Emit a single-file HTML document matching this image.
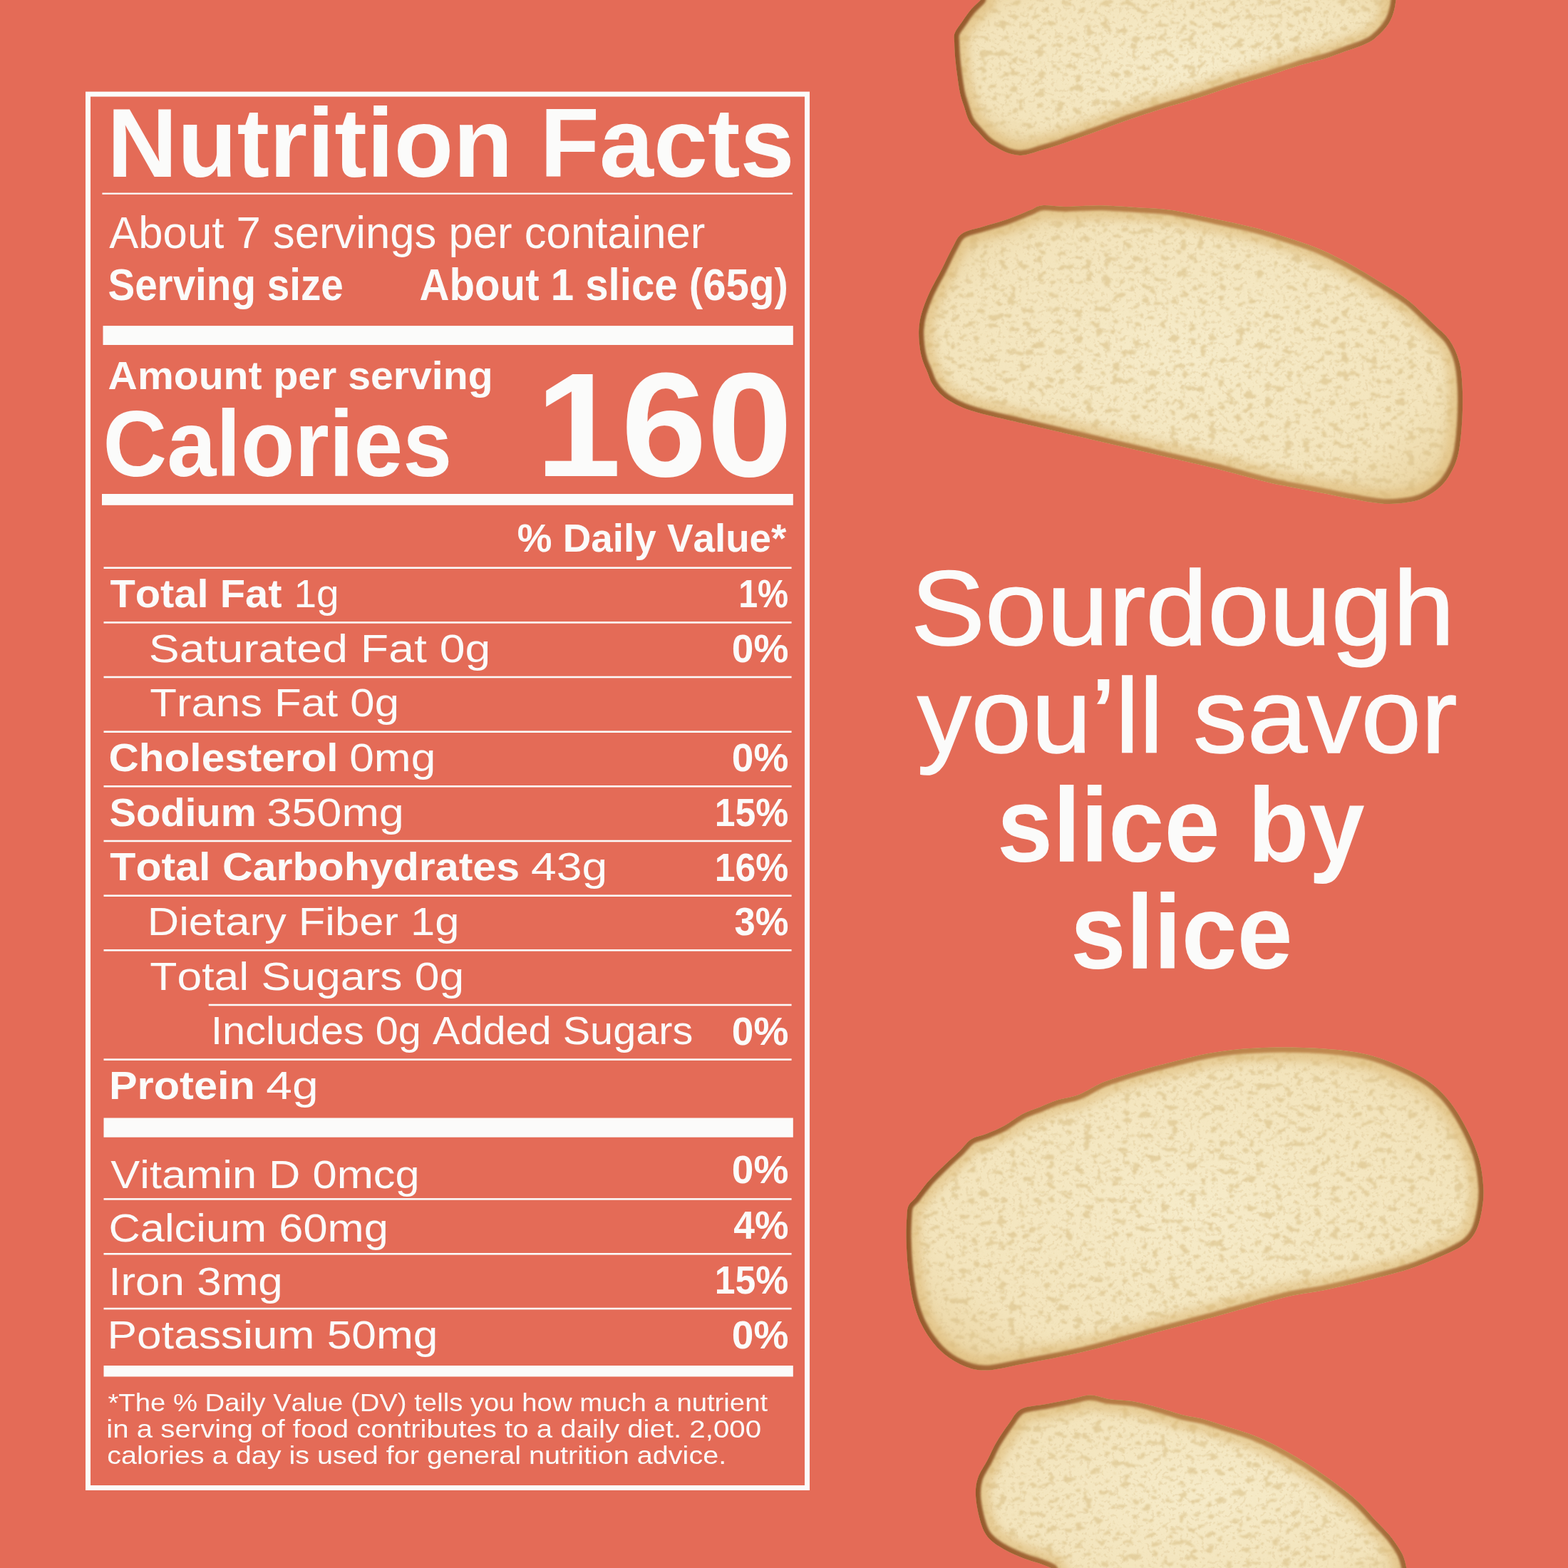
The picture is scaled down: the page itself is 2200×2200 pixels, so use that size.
<!DOCTYPE html><html><head><meta charset="utf-8"><title>Nutrition Facts</title><style>html,body{margin:0;padding:0;background:#e46b57;width:2200px;height:2200px;overflow:hidden}svg{display:block}text{font-family:"Liberation Sans",Arial,sans-serif;fill:#fbfbfa;font-kerning:none}.b{font-weight:700}</style></head><body>
<svg width="2200" height="2200" viewBox="0 0 2200 2200">
<defs>
<filter id="crumb" x="1200" y="-50" width="1000" height="2300" filterUnits="userSpaceOnUse" color-interpolation-filters="sRGB">
<feTurbulence type="fractalNoise" baseFrequency="0.075 0.1" numOctaves="3" seed="11" result="n"/>
<feColorMatrix in="n" type="matrix" values="0 0 0 0 0.86  0 0 0 0 0.76  0 0 0 0 0.54  12 0 0 0 -7.2" result="holes"/>
<feGaussianBlur in="holes" stdDeviation="0.8" result="hb"/>
<feComposite in="hb" in2="SourceGraphic" operator="in"/>
</filter>
<filter id="fine" x="1200" y="-50" width="1000" height="2300" filterUnits="userSpaceOnUse" color-interpolation-filters="sRGB">
<feTurbulence type="fractalNoise" baseFrequency="0.2" numOctaves="2" seed="5" result="n"/>
<feColorMatrix in="n" type="matrix" values="0 0 0 0 0.88  0 0 0 0 0.79  0 0 0 0 0.6  8 0 0 0 -4.5" result="holes"/>
<feComposite in="holes" in2="SourceGraphic" operator="in"/>
</filter>
<filter id="soft" x="-10%" y="-10%" width="120%" height="120%"><feGaussianBlur stdDeviation="6"/></filter>
<filter id="soft2" x="-10%" y="-10%" width="120%" height="120%"><feGaussianBlur stdDeviation="1.5"/></filter>
<radialGradient id="cg" cx="50%" cy="50%" r="65%"><stop offset="0" stop-color="#f6ebc9"/><stop offset="0.7" stop-color="#f3e4bc"/><stop offset="1" stop-color="#e9d19c"/></radialGradient>
<clipPath id="c0"><path d="M1405.0,-30.0 C1307.7,-25.0 1383.1,-7.3 1375.9,0.0 C1368.7,7.3 1366.2,8.9 1361.9,14.0 C1357.6,19.1 1353.5,25.4 1349.8,30.8 C1346.1,36.2 1341.4,41.6 1339.6,46.6 C1337.8,51.6 1338.9,54.4 1339.1,60.6 C1339.2,66.8 1339.8,76.1 1340.5,83.9 C1341.2,91.7 1342.2,99.4 1343.3,107.2 C1344.4,115.0 1345.5,123.5 1347.0,130.5 C1348.5,137.5 1350.4,142.5 1352.6,149.1 C1354.8,155.7 1356.7,163.9 1360.0,169.9 C1363.3,175.9 1368.3,180.1 1372.4,184.8 C1376.5,189.5 1380.7,194.4 1384.8,198.0 C1388.9,201.6 1392.5,203.5 1397.3,206.3 C1402.1,209.1 1408.3,212.7 1413.8,214.6 C1419.3,216.5 1425.6,217.6 1430.4,217.9 C1435.2,218.2 1438.0,217.4 1442.8,216.3 C1447.6,215.2 1452.5,213.4 1459.4,211.3 C1466.3,209.2 1472.5,207.7 1484.2,203.8 C1495.9,199.9 1513.8,193.4 1529.7,187.7 C1545.6,182.0 1562.8,175.2 1579.4,169.4 C1596.0,163.6 1612.5,158.1 1629.1,152.9 C1645.7,147.7 1662.2,143.2 1678.8,138.0 C1695.3,132.8 1711.9,126.7 1728.4,121.4 C1745.0,116.2 1761.9,111.5 1778.1,106.5 C1794.3,101.5 1812.0,95.2 1825.6,91.1 C1839.2,87.0 1849.3,85.2 1859.7,82.0 C1870.1,78.8 1879.7,74.8 1888.2,71.8 C1896.8,68.8 1904.4,66.6 1911.0,63.8 C1917.6,60.9 1922.3,59.1 1928.0,54.7 C1933.7,50.3 1940.7,43.3 1945.1,37.6 C1949.5,31.9 1952.0,26.8 1954.2,20.5 C1956.4,14.2 1957.5,8.4 1958.5,0.0 C1959.5,-8.4 2052.2,-25.0 1960.0,-30.0 C1867.8,-35.0 1502.3,-35.0 1405.0,-30.0Z"/></clipPath>
<clipPath id="c1"><path d="M1336.3,347.8 C1341.0,339.5 1342.4,333.0 1349.6,328.0 C1356.8,323.0 1368.9,321.3 1379.4,318.0 C1389.9,314.7 1401.5,312.0 1412.5,308.1 C1423.5,304.2 1437.3,298.1 1445.6,294.8 C1453.9,291.5 1453.9,289.0 1462.2,288.2 C1470.5,287.4 1481.5,289.9 1495.3,289.9 C1509.1,289.9 1527.5,287.9 1545.0,288.2 C1562.5,288.5 1583.7,290.4 1600.0,291.5 C1616.3,292.6 1625.2,292.2 1642.7,294.8 C1660.2,297.4 1685.2,303.2 1704.8,307.3 C1724.3,311.4 1743.2,315.3 1760.0,319.6 C1776.8,323.9 1790.4,328.4 1805.6,333.3 C1820.8,338.2 1835.9,342.8 1851.1,349.2 C1866.3,355.6 1881.5,363.6 1896.7,372.0 C1911.9,380.4 1928.9,390.9 1942.2,399.3 C1955.5,407.7 1965.0,413.0 1976.4,422.1 C1987.8,431.2 2001.1,444.9 2010.6,454.0 C2020.1,463.1 2027.2,468.1 2033.3,476.8 C2039.4,485.5 2044.0,495.8 2047.0,506.4 C2050.1,517.0 2050.8,527.3 2051.6,540.6 C2052.4,553.9 2052.4,570.9 2051.6,586.1 C2050.8,601.3 2049.3,619.6 2047.0,631.7 C2044.7,643.9 2042.1,650.6 2037.9,659.0 C2033.7,667.4 2028.5,675.3 2022.0,681.8 C2015.5,688.2 2006.8,693.9 1999.2,697.7 C1991.6,701.5 1985.9,703.1 1976.4,704.6 C1966.9,706.1 1955.5,707.7 1942.2,706.9 C1928.9,706.1 1911.9,702.7 1896.7,700.0 C1881.5,697.3 1867.2,694.0 1851.1,690.9 C1835.0,687.8 1813.3,684.0 1800.0,681.3 C1786.7,678.6 1787.0,678.8 1771.3,674.8 C1755.6,670.8 1727.8,662.8 1706.1,657.4 C1684.4,652.0 1662.6,647.3 1640.9,642.2 C1619.2,637.1 1597.5,632.1 1575.7,627.0 C1554.0,621.9 1532.2,616.8 1510.4,611.7 C1488.7,606.6 1460.3,600.0 1445.2,596.5 C1430.1,593.0 1428.7,592.6 1419.8,590.5 C1410.9,588.4 1401.1,586.3 1391.8,584.0 C1382.5,581.7 1372.4,579.4 1363.9,576.6 C1355.4,573.8 1347.6,570.8 1340.6,567.2 C1333.6,563.6 1327.3,559.9 1321.9,555.1 C1316.5,550.3 1311.4,543.8 1308.0,538.4 C1304.6,533.0 1303.7,528.2 1301.4,522.5 C1299.1,516.8 1295.8,510.1 1294.0,503.9 C1292.2,497.7 1291.1,492.2 1290.3,485.2 C1289.5,478.2 1288.8,469.4 1289.3,461.9 C1289.8,454.4 1290.6,448.3 1293.0,440.0 C1295.4,431.7 1298.8,422.4 1303.5,412.0 C1308.2,401.6 1315.9,388.4 1321.4,377.7 C1326.9,367.0 1331.6,356.1 1336.3,347.8Z"/></clipPath>
<clipPath id="c2"><path d="M1272.4,1706.3 C1273.0,1698.2 1272.8,1695.8 1274.9,1691.4 C1277.0,1687.1 1280.0,1686.0 1284.8,1680.2 C1289.6,1674.4 1296.2,1664.7 1303.5,1656.6 C1310.8,1648.5 1321.0,1638.8 1328.3,1631.8 C1335.5,1624.8 1341.2,1620.0 1347.0,1614.4 C1352.8,1608.8 1356.9,1602.2 1363.1,1598.3 C1369.3,1594.4 1376.5,1593.9 1384.2,1590.8 C1391.9,1587.7 1400.8,1584.1 1409.1,1579.6 C1417.4,1575.0 1425.6,1567.8 1433.9,1563.5 C1442.2,1559.2 1450.5,1556.8 1458.8,1553.5 C1467.1,1550.2 1474.5,1546.5 1483.6,1543.6 C1492.6,1540.7 1502.1,1540.4 1513.1,1536.1 C1524.1,1531.8 1535.8,1523.3 1549.6,1517.8 C1563.4,1512.3 1579.9,1507.6 1595.9,1502.9 C1611.9,1498.2 1629.0,1493.8 1645.6,1489.7 C1662.2,1485.6 1678.7,1481.1 1695.3,1478.1 C1711.9,1475.1 1727.5,1472.9 1745.0,1471.5 C1762.5,1470.1 1781.0,1469.5 1800.0,1469.5 C1819.0,1469.5 1839.3,1469.9 1859.0,1471.6 C1878.7,1473.3 1900.0,1475.2 1918.0,1479.5 C1936.0,1483.8 1952.4,1490.6 1967.2,1497.2 C1982.0,1503.8 1995.1,1510.4 2006.6,1518.9 C2018.1,1527.4 2027.2,1536.9 2036.1,1548.4 C2044.9,1559.9 2053.1,1574.6 2059.7,1587.7 C2066.2,1600.8 2071.8,1614.0 2075.4,1627.1 C2079.0,1640.2 2080.6,1654.9 2081.3,1666.4 C2082.0,1677.9 2081.0,1686.1 2079.4,1695.9 C2077.8,1705.7 2075.4,1717.2 2071.5,1725.4 C2067.6,1733.6 2063.4,1739.2 2055.8,1745.1 C2048.2,1751.0 2039.3,1754.9 2026.2,1760.8 C2013.1,1766.7 1995.1,1774.6 1977.1,1780.5 C1959.1,1786.4 1937.7,1791.4 1918.0,1796.3 C1898.3,1801.2 1878.7,1805.9 1859.0,1810.0 C1839.3,1814.1 1827.4,1814.3 1800.0,1821.0 C1772.6,1827.7 1726.8,1841.4 1694.8,1850.1 C1662.8,1858.8 1636.8,1865.6 1607.8,1873.3 C1578.8,1881.0 1549.9,1889.7 1520.9,1896.5 C1491.9,1903.3 1457.1,1909.6 1433.9,1913.9 C1410.7,1918.2 1396.2,1922.6 1381.7,1922.6 C1367.2,1922.6 1357.6,1918.7 1347.0,1913.9 C1336.4,1909.1 1326.7,1902.3 1318.0,1893.6 C1309.3,1884.9 1300.8,1872.8 1294.8,1861.7 C1288.8,1850.6 1285.1,1840.0 1281.7,1827.0 C1278.3,1814.0 1276.2,1798.0 1274.5,1783.5 C1272.8,1769.0 1271.9,1752.9 1271.6,1740.0 C1271.2,1727.1 1271.9,1714.4 1272.4,1706.3Z"/></clipPath>
<clipPath id="c3"><path d="M1530.0,2230.0 C1446.1,2225.0 1490.7,2207.4 1474.6,2200.0 C1458.5,2192.6 1445.3,2190.3 1433.2,2185.3 C1421.1,2180.3 1410.3,2175.2 1402.0,2169.8 C1393.7,2164.5 1388.1,2159.9 1383.5,2153.2 C1378.9,2146.5 1376.6,2138.6 1374.2,2129.4 C1371.8,2120.2 1369.4,2107.5 1369.0,2098.3 C1368.6,2089.1 1369.3,2082.2 1372.0,2074.0 C1374.7,2065.8 1381.0,2057.3 1385.3,2049.1 C1389.6,2040.8 1392.6,2033.0 1397.6,2024.5 C1402.6,2016.0 1409.3,2006.0 1415.2,1998.1 C1421.1,1990.2 1424.0,1981.7 1432.8,1977.0 C1441.6,1972.3 1456.3,1972.2 1468.0,1969.9 C1479.7,1967.6 1492.9,1965.0 1503.2,1962.9 C1513.5,1960.9 1520.8,1957.6 1529.6,1957.6 C1538.4,1957.6 1545.7,1961.4 1556.0,1962.9 C1566.3,1964.4 1579.5,1964.4 1591.2,1966.4 C1602.9,1968.5 1614.7,1972.0 1626.4,1975.2 C1638.1,1978.4 1651.3,1983.2 1661.6,1985.8 C1671.9,1988.4 1678.3,1988.4 1688.0,1991.0 C1697.7,1993.6 1707.7,1997.2 1720.0,2001.2 C1732.3,2005.2 1747.3,2009.0 1762.1,2015.2 C1776.9,2021.4 1793.2,2029.7 1808.7,2038.5 C1824.2,2047.3 1839.8,2057.1 1855.3,2068.0 C1870.8,2078.9 1889.0,2092.3 1901.9,2103.7 C1914.8,2115.1 1924.6,2127.5 1932.9,2136.3 C1941.2,2145.1 1945.9,2149.2 1951.6,2156.5 C1957.3,2163.8 1963.5,2172.6 1967.1,2179.8 C1970.7,2187.1 1971.5,2191.6 1973.3,2200.0 C1975.1,2208.4 2051.9,2225.0 1978.0,2230.0 C1904.1,2235.0 1613.9,2235.0 1530.0,2230.0Z"/></clipPath>
</defs>
<rect width="2200" height="2200" fill="#e46b57"/>
<linearGradient id="cr0" gradientUnits="userSpaceOnUse" x1="1339" y1="0" x2="1960" y2="0"><stop offset="0" stop-color="#94592c"/><stop offset="0.3" stop-color="#b57b44"/><stop offset="0.75" stop-color="#c08a50"/><stop offset="1" stop-color="#9e6535"/></linearGradient>
<g clip-path="url(#c0)">
<path d="M1405.0,-30.0 C1307.7,-25.0 1383.1,-7.3 1375.9,0.0 C1368.7,7.3 1366.2,8.9 1361.9,14.0 C1357.6,19.1 1353.5,25.4 1349.8,30.8 C1346.1,36.2 1341.4,41.6 1339.6,46.6 C1337.8,51.6 1338.9,54.4 1339.1,60.6 C1339.2,66.8 1339.8,76.1 1340.5,83.9 C1341.2,91.7 1342.2,99.4 1343.3,107.2 C1344.4,115.0 1345.5,123.5 1347.0,130.5 C1348.5,137.5 1350.4,142.5 1352.6,149.1 C1354.8,155.7 1356.7,163.9 1360.0,169.9 C1363.3,175.9 1368.3,180.1 1372.4,184.8 C1376.5,189.5 1380.7,194.4 1384.8,198.0 C1388.9,201.6 1392.5,203.5 1397.3,206.3 C1402.1,209.1 1408.3,212.7 1413.8,214.6 C1419.3,216.5 1425.6,217.6 1430.4,217.9 C1435.2,218.2 1438.0,217.4 1442.8,216.3 C1447.6,215.2 1452.5,213.4 1459.4,211.3 C1466.3,209.2 1472.5,207.7 1484.2,203.8 C1495.9,199.9 1513.8,193.4 1529.7,187.7 C1545.6,182.0 1562.8,175.2 1579.4,169.4 C1596.0,163.6 1612.5,158.1 1629.1,152.9 C1645.7,147.7 1662.2,143.2 1678.8,138.0 C1695.3,132.8 1711.9,126.7 1728.4,121.4 C1745.0,116.2 1761.9,111.5 1778.1,106.5 C1794.3,101.5 1812.0,95.2 1825.6,91.1 C1839.2,87.0 1849.3,85.2 1859.7,82.0 C1870.1,78.8 1879.7,74.8 1888.2,71.8 C1896.8,68.8 1904.4,66.6 1911.0,63.8 C1917.6,60.9 1922.3,59.1 1928.0,54.7 C1933.7,50.3 1940.7,43.3 1945.1,37.6 C1949.5,31.9 1952.0,26.8 1954.2,20.5 C1956.4,14.2 1957.5,8.4 1958.5,0.0 C1959.5,-8.4 2052.2,-25.0 1960.0,-30.0 C1867.8,-35.0 1502.3,-35.0 1405.0,-30.0Z" fill="url(#cg)"/>
<path d="M1405.0,-30.0 C1307.7,-25.0 1383.1,-7.3 1375.9,0.0 C1368.7,7.3 1366.2,8.9 1361.9,14.0 C1357.6,19.1 1353.5,25.4 1349.8,30.8 C1346.1,36.2 1341.4,41.6 1339.6,46.6 C1337.8,51.6 1338.9,54.4 1339.1,60.6 C1339.2,66.8 1339.8,76.1 1340.5,83.9 C1341.2,91.7 1342.2,99.4 1343.3,107.2 C1344.4,115.0 1345.5,123.5 1347.0,130.5 C1348.5,137.5 1350.4,142.5 1352.6,149.1 C1354.8,155.7 1356.7,163.9 1360.0,169.9 C1363.3,175.9 1368.3,180.1 1372.4,184.8 C1376.5,189.5 1380.7,194.4 1384.8,198.0 C1388.9,201.6 1392.5,203.5 1397.3,206.3 C1402.1,209.1 1408.3,212.7 1413.8,214.6 C1419.3,216.5 1425.6,217.6 1430.4,217.9 C1435.2,218.2 1438.0,217.4 1442.8,216.3 C1447.6,215.2 1452.5,213.4 1459.4,211.3 C1466.3,209.2 1472.5,207.7 1484.2,203.8 C1495.9,199.9 1513.8,193.4 1529.7,187.7 C1545.6,182.0 1562.8,175.2 1579.4,169.4 C1596.0,163.6 1612.5,158.1 1629.1,152.9 C1645.7,147.7 1662.2,143.2 1678.8,138.0 C1695.3,132.8 1711.9,126.7 1728.4,121.4 C1745.0,116.2 1761.9,111.5 1778.1,106.5 C1794.3,101.5 1812.0,95.2 1825.6,91.1 C1839.2,87.0 1849.3,85.2 1859.7,82.0 C1870.1,78.8 1879.7,74.8 1888.2,71.8 C1896.8,68.8 1904.4,66.6 1911.0,63.8 C1917.6,60.9 1922.3,59.1 1928.0,54.7 C1933.7,50.3 1940.7,43.3 1945.1,37.6 C1949.5,31.9 1952.0,26.8 1954.2,20.5 C1956.4,14.2 1957.5,8.4 1958.5,0.0 C1959.5,-8.4 2052.2,-25.0 1960.0,-30.0 C1867.8,-35.0 1502.3,-35.0 1405.0,-30.0Z" fill="#fff" filter="url(#crumb)" opacity="0.62"/>
<path d="M1405.0,-30.0 C1307.7,-25.0 1383.1,-7.3 1375.9,0.0 C1368.7,7.3 1366.2,8.9 1361.9,14.0 C1357.6,19.1 1353.5,25.4 1349.8,30.8 C1346.1,36.2 1341.4,41.6 1339.6,46.6 C1337.8,51.6 1338.9,54.4 1339.1,60.6 C1339.2,66.8 1339.8,76.1 1340.5,83.9 C1341.2,91.7 1342.2,99.4 1343.3,107.2 C1344.4,115.0 1345.5,123.5 1347.0,130.5 C1348.5,137.5 1350.4,142.5 1352.6,149.1 C1354.8,155.7 1356.7,163.9 1360.0,169.9 C1363.3,175.9 1368.3,180.1 1372.4,184.8 C1376.5,189.5 1380.7,194.4 1384.8,198.0 C1388.9,201.6 1392.5,203.5 1397.3,206.3 C1402.1,209.1 1408.3,212.7 1413.8,214.6 C1419.3,216.5 1425.6,217.6 1430.4,217.9 C1435.2,218.2 1438.0,217.4 1442.8,216.3 C1447.6,215.2 1452.5,213.4 1459.4,211.3 C1466.3,209.2 1472.5,207.7 1484.2,203.8 C1495.9,199.9 1513.8,193.4 1529.7,187.7 C1545.6,182.0 1562.8,175.2 1579.4,169.4 C1596.0,163.6 1612.5,158.1 1629.1,152.9 C1645.7,147.7 1662.2,143.2 1678.8,138.0 C1695.3,132.8 1711.9,126.7 1728.4,121.4 C1745.0,116.2 1761.9,111.5 1778.1,106.5 C1794.3,101.5 1812.0,95.2 1825.6,91.1 C1839.2,87.0 1849.3,85.2 1859.7,82.0 C1870.1,78.8 1879.7,74.8 1888.2,71.8 C1896.8,68.8 1904.4,66.6 1911.0,63.8 C1917.6,60.9 1922.3,59.1 1928.0,54.7 C1933.7,50.3 1940.7,43.3 1945.1,37.6 C1949.5,31.9 1952.0,26.8 1954.2,20.5 C1956.4,14.2 1957.5,8.4 1958.5,0.0 C1959.5,-8.4 2052.2,-25.0 1960.0,-30.0 C1867.8,-35.0 1502.3,-35.0 1405.0,-30.0Z" fill="#fff" filter="url(#fine)" opacity="0.38"/>
<path d="M1405.0,-30.0 C1307.7,-25.0 1383.1,-7.3 1375.9,0.0 C1368.7,7.3 1366.2,8.9 1361.9,14.0 C1357.6,19.1 1353.5,25.4 1349.8,30.8 C1346.1,36.2 1341.4,41.6 1339.6,46.6 C1337.8,51.6 1338.9,54.4 1339.1,60.6 C1339.2,66.8 1339.8,76.1 1340.5,83.9 C1341.2,91.7 1342.2,99.4 1343.3,107.2 C1344.4,115.0 1345.5,123.5 1347.0,130.5 C1348.5,137.5 1350.4,142.5 1352.6,149.1 C1354.8,155.7 1356.7,163.9 1360.0,169.9 C1363.3,175.9 1368.3,180.1 1372.4,184.8 C1376.5,189.5 1380.7,194.4 1384.8,198.0 C1388.9,201.6 1392.5,203.5 1397.3,206.3 C1402.1,209.1 1408.3,212.7 1413.8,214.6 C1419.3,216.5 1425.6,217.6 1430.4,217.9 C1435.2,218.2 1438.0,217.4 1442.8,216.3 C1447.6,215.2 1452.5,213.4 1459.4,211.3 C1466.3,209.2 1472.5,207.7 1484.2,203.8 C1495.9,199.9 1513.8,193.4 1529.7,187.7 C1545.6,182.0 1562.8,175.2 1579.4,169.4 C1596.0,163.6 1612.5,158.1 1629.1,152.9 C1645.7,147.7 1662.2,143.2 1678.8,138.0 C1695.3,132.8 1711.9,126.7 1728.4,121.4 C1745.0,116.2 1761.9,111.5 1778.1,106.5 C1794.3,101.5 1812.0,95.2 1825.6,91.1 C1839.2,87.0 1849.3,85.2 1859.7,82.0 C1870.1,78.8 1879.7,74.8 1888.2,71.8 C1896.8,68.8 1904.4,66.6 1911.0,63.8 C1917.6,60.9 1922.3,59.1 1928.0,54.7 C1933.7,50.3 1940.7,43.3 1945.1,37.6 C1949.5,31.9 1952.0,26.8 1954.2,20.5 C1956.4,14.2 1957.5,8.4 1958.5,0.0 C1959.5,-8.4 2052.2,-25.0 1960.0,-30.0 C1867.8,-35.0 1502.3,-35.0 1405.0,-30.0Z" fill="none" stroke="#dcb571" stroke-width="40" opacity="0.5" filter="url(#soft)"/>
<path d="M1405.0,-30.0 C1307.7,-25.0 1383.1,-7.3 1375.9,0.0 C1368.7,7.3 1366.2,8.9 1361.9,14.0 C1357.6,19.1 1353.5,25.4 1349.8,30.8 C1346.1,36.2 1341.4,41.6 1339.6,46.6 C1337.8,51.6 1338.9,54.4 1339.1,60.6 C1339.2,66.8 1339.8,76.1 1340.5,83.9 C1341.2,91.7 1342.2,99.4 1343.3,107.2 C1344.4,115.0 1345.5,123.5 1347.0,130.5 C1348.5,137.5 1350.4,142.5 1352.6,149.1 C1354.8,155.7 1356.7,163.9 1360.0,169.9 C1363.3,175.9 1368.3,180.1 1372.4,184.8 C1376.5,189.5 1380.7,194.4 1384.8,198.0 C1388.9,201.6 1392.5,203.5 1397.3,206.3 C1402.1,209.1 1408.3,212.7 1413.8,214.6 C1419.3,216.5 1425.6,217.6 1430.4,217.9 C1435.2,218.2 1438.0,217.4 1442.8,216.3 C1447.6,215.2 1452.5,213.4 1459.4,211.3 C1466.3,209.2 1472.5,207.7 1484.2,203.8 C1495.9,199.9 1513.8,193.4 1529.7,187.7 C1545.6,182.0 1562.8,175.2 1579.4,169.4 C1596.0,163.6 1612.5,158.1 1629.1,152.9 C1645.7,147.7 1662.2,143.2 1678.8,138.0 C1695.3,132.8 1711.9,126.7 1728.4,121.4 C1745.0,116.2 1761.9,111.5 1778.1,106.5 C1794.3,101.5 1812.0,95.2 1825.6,91.1 C1839.2,87.0 1849.3,85.2 1859.7,82.0 C1870.1,78.8 1879.7,74.8 1888.2,71.8 C1896.8,68.8 1904.4,66.6 1911.0,63.8 C1917.6,60.9 1922.3,59.1 1928.0,54.7 C1933.7,50.3 1940.7,43.3 1945.1,37.6 C1949.5,31.9 1952.0,26.8 1954.2,20.5 C1956.4,14.2 1957.5,8.4 1958.5,0.0 C1959.5,-8.4 2052.2,-25.0 1960.0,-30.0 C1867.8,-35.0 1502.3,-35.0 1405.0,-30.0Z" fill="none" stroke="url(#cr0)" stroke-width="14" filter="url(#soft2)"/>
</g>
<linearGradient id="cr1" gradientUnits="userSpaceOnUse" x1="1289" y1="0" x2="2052" y2="0"><stop offset="0" stop-color="#94592c"/><stop offset="0.3" stop-color="#b57b44"/><stop offset="0.75" stop-color="#c08a50"/><stop offset="1" stop-color="#9e6535"/></linearGradient>
<g clip-path="url(#c1)">
<path d="M1336.3,347.8 C1341.0,339.5 1342.4,333.0 1349.6,328.0 C1356.8,323.0 1368.9,321.3 1379.4,318.0 C1389.9,314.7 1401.5,312.0 1412.5,308.1 C1423.5,304.2 1437.3,298.1 1445.6,294.8 C1453.9,291.5 1453.9,289.0 1462.2,288.2 C1470.5,287.4 1481.5,289.9 1495.3,289.9 C1509.1,289.9 1527.5,287.9 1545.0,288.2 C1562.5,288.5 1583.7,290.4 1600.0,291.5 C1616.3,292.6 1625.2,292.2 1642.7,294.8 C1660.2,297.4 1685.2,303.2 1704.8,307.3 C1724.3,311.4 1743.2,315.3 1760.0,319.6 C1776.8,323.9 1790.4,328.4 1805.6,333.3 C1820.8,338.2 1835.9,342.8 1851.1,349.2 C1866.3,355.6 1881.5,363.6 1896.7,372.0 C1911.9,380.4 1928.9,390.9 1942.2,399.3 C1955.5,407.7 1965.0,413.0 1976.4,422.1 C1987.8,431.2 2001.1,444.9 2010.6,454.0 C2020.1,463.1 2027.2,468.1 2033.3,476.8 C2039.4,485.5 2044.0,495.8 2047.0,506.4 C2050.1,517.0 2050.8,527.3 2051.6,540.6 C2052.4,553.9 2052.4,570.9 2051.6,586.1 C2050.8,601.3 2049.3,619.6 2047.0,631.7 C2044.7,643.9 2042.1,650.6 2037.9,659.0 C2033.7,667.4 2028.5,675.3 2022.0,681.8 C2015.5,688.2 2006.8,693.9 1999.2,697.7 C1991.6,701.5 1985.9,703.1 1976.4,704.6 C1966.9,706.1 1955.5,707.7 1942.2,706.9 C1928.9,706.1 1911.9,702.7 1896.7,700.0 C1881.5,697.3 1867.2,694.0 1851.1,690.9 C1835.0,687.8 1813.3,684.0 1800.0,681.3 C1786.7,678.6 1787.0,678.8 1771.3,674.8 C1755.6,670.8 1727.8,662.8 1706.1,657.4 C1684.4,652.0 1662.6,647.3 1640.9,642.2 C1619.2,637.1 1597.5,632.1 1575.7,627.0 C1554.0,621.9 1532.2,616.8 1510.4,611.7 C1488.7,606.6 1460.3,600.0 1445.2,596.5 C1430.1,593.0 1428.7,592.6 1419.8,590.5 C1410.9,588.4 1401.1,586.3 1391.8,584.0 C1382.5,581.7 1372.4,579.4 1363.9,576.6 C1355.4,573.8 1347.6,570.8 1340.6,567.2 C1333.6,563.6 1327.3,559.9 1321.9,555.1 C1316.5,550.3 1311.4,543.8 1308.0,538.4 C1304.6,533.0 1303.7,528.2 1301.4,522.5 C1299.1,516.8 1295.8,510.1 1294.0,503.9 C1292.2,497.7 1291.1,492.2 1290.3,485.2 C1289.5,478.2 1288.8,469.4 1289.3,461.9 C1289.8,454.4 1290.6,448.3 1293.0,440.0 C1295.4,431.7 1298.8,422.4 1303.5,412.0 C1308.2,401.6 1315.9,388.4 1321.4,377.7 C1326.9,367.0 1331.6,356.1 1336.3,347.8Z" fill="url(#cg)"/>
<path d="M1336.3,347.8 C1341.0,339.5 1342.4,333.0 1349.6,328.0 C1356.8,323.0 1368.9,321.3 1379.4,318.0 C1389.9,314.7 1401.5,312.0 1412.5,308.1 C1423.5,304.2 1437.3,298.1 1445.6,294.8 C1453.9,291.5 1453.9,289.0 1462.2,288.2 C1470.5,287.4 1481.5,289.9 1495.3,289.9 C1509.1,289.9 1527.5,287.9 1545.0,288.2 C1562.5,288.5 1583.7,290.4 1600.0,291.5 C1616.3,292.6 1625.2,292.2 1642.7,294.8 C1660.2,297.4 1685.2,303.2 1704.8,307.3 C1724.3,311.4 1743.2,315.3 1760.0,319.6 C1776.8,323.9 1790.4,328.4 1805.6,333.3 C1820.8,338.2 1835.9,342.8 1851.1,349.2 C1866.3,355.6 1881.5,363.6 1896.7,372.0 C1911.9,380.4 1928.9,390.9 1942.2,399.3 C1955.5,407.7 1965.0,413.0 1976.4,422.1 C1987.8,431.2 2001.1,444.9 2010.6,454.0 C2020.1,463.1 2027.2,468.1 2033.3,476.8 C2039.4,485.5 2044.0,495.8 2047.0,506.4 C2050.1,517.0 2050.8,527.3 2051.6,540.6 C2052.4,553.9 2052.4,570.9 2051.6,586.1 C2050.8,601.3 2049.3,619.6 2047.0,631.7 C2044.7,643.9 2042.1,650.6 2037.9,659.0 C2033.7,667.4 2028.5,675.3 2022.0,681.8 C2015.5,688.2 2006.8,693.9 1999.2,697.7 C1991.6,701.5 1985.9,703.1 1976.4,704.6 C1966.9,706.1 1955.5,707.7 1942.2,706.9 C1928.9,706.1 1911.9,702.7 1896.7,700.0 C1881.5,697.3 1867.2,694.0 1851.1,690.9 C1835.0,687.8 1813.3,684.0 1800.0,681.3 C1786.7,678.6 1787.0,678.8 1771.3,674.8 C1755.6,670.8 1727.8,662.8 1706.1,657.4 C1684.4,652.0 1662.6,647.3 1640.9,642.2 C1619.2,637.1 1597.5,632.1 1575.7,627.0 C1554.0,621.9 1532.2,616.8 1510.4,611.7 C1488.7,606.6 1460.3,600.0 1445.2,596.5 C1430.1,593.0 1428.7,592.6 1419.8,590.5 C1410.9,588.4 1401.1,586.3 1391.8,584.0 C1382.5,581.7 1372.4,579.4 1363.9,576.6 C1355.4,573.8 1347.6,570.8 1340.6,567.2 C1333.6,563.6 1327.3,559.9 1321.9,555.1 C1316.5,550.3 1311.4,543.8 1308.0,538.4 C1304.6,533.0 1303.7,528.2 1301.4,522.5 C1299.1,516.8 1295.8,510.1 1294.0,503.9 C1292.2,497.7 1291.1,492.2 1290.3,485.2 C1289.5,478.2 1288.8,469.4 1289.3,461.9 C1289.8,454.4 1290.6,448.3 1293.0,440.0 C1295.4,431.7 1298.8,422.4 1303.5,412.0 C1308.2,401.6 1315.9,388.4 1321.4,377.7 C1326.9,367.0 1331.6,356.1 1336.3,347.8Z" fill="#fff" filter="url(#crumb)" opacity="0.62"/>
<path d="M1336.3,347.8 C1341.0,339.5 1342.4,333.0 1349.6,328.0 C1356.8,323.0 1368.9,321.3 1379.4,318.0 C1389.9,314.7 1401.5,312.0 1412.5,308.1 C1423.5,304.2 1437.3,298.1 1445.6,294.8 C1453.9,291.5 1453.9,289.0 1462.2,288.2 C1470.5,287.4 1481.5,289.9 1495.3,289.9 C1509.1,289.9 1527.5,287.9 1545.0,288.2 C1562.5,288.5 1583.7,290.4 1600.0,291.5 C1616.3,292.6 1625.2,292.2 1642.7,294.8 C1660.2,297.4 1685.2,303.2 1704.8,307.3 C1724.3,311.4 1743.2,315.3 1760.0,319.6 C1776.8,323.9 1790.4,328.4 1805.6,333.3 C1820.8,338.2 1835.9,342.8 1851.1,349.2 C1866.3,355.6 1881.5,363.6 1896.7,372.0 C1911.9,380.4 1928.9,390.9 1942.2,399.3 C1955.5,407.7 1965.0,413.0 1976.4,422.1 C1987.8,431.2 2001.1,444.9 2010.6,454.0 C2020.1,463.1 2027.2,468.1 2033.3,476.8 C2039.4,485.5 2044.0,495.8 2047.0,506.4 C2050.1,517.0 2050.8,527.3 2051.6,540.6 C2052.4,553.9 2052.4,570.9 2051.6,586.1 C2050.8,601.3 2049.3,619.6 2047.0,631.7 C2044.7,643.9 2042.1,650.6 2037.9,659.0 C2033.7,667.4 2028.5,675.3 2022.0,681.8 C2015.5,688.2 2006.8,693.9 1999.2,697.7 C1991.6,701.5 1985.9,703.1 1976.4,704.6 C1966.9,706.1 1955.5,707.7 1942.2,706.9 C1928.9,706.1 1911.9,702.7 1896.7,700.0 C1881.5,697.3 1867.2,694.0 1851.1,690.9 C1835.0,687.8 1813.3,684.0 1800.0,681.3 C1786.7,678.6 1787.0,678.8 1771.3,674.8 C1755.6,670.8 1727.8,662.8 1706.1,657.4 C1684.4,652.0 1662.6,647.3 1640.9,642.2 C1619.2,637.1 1597.5,632.1 1575.7,627.0 C1554.0,621.9 1532.2,616.8 1510.4,611.7 C1488.7,606.6 1460.3,600.0 1445.2,596.5 C1430.1,593.0 1428.7,592.6 1419.8,590.5 C1410.9,588.4 1401.1,586.3 1391.8,584.0 C1382.5,581.7 1372.4,579.4 1363.9,576.6 C1355.4,573.8 1347.6,570.8 1340.6,567.2 C1333.6,563.6 1327.3,559.9 1321.9,555.1 C1316.5,550.3 1311.4,543.8 1308.0,538.4 C1304.6,533.0 1303.7,528.2 1301.4,522.5 C1299.1,516.8 1295.8,510.1 1294.0,503.9 C1292.2,497.7 1291.1,492.2 1290.3,485.2 C1289.5,478.2 1288.8,469.4 1289.3,461.9 C1289.8,454.4 1290.6,448.3 1293.0,440.0 C1295.4,431.7 1298.8,422.4 1303.5,412.0 C1308.2,401.6 1315.9,388.4 1321.4,377.7 C1326.9,367.0 1331.6,356.1 1336.3,347.8Z" fill="#fff" filter="url(#fine)" opacity="0.38"/>
<path d="M1336.3,347.8 C1341.0,339.5 1342.4,333.0 1349.6,328.0 C1356.8,323.0 1368.9,321.3 1379.4,318.0 C1389.9,314.7 1401.5,312.0 1412.5,308.1 C1423.5,304.2 1437.3,298.1 1445.6,294.8 C1453.9,291.5 1453.9,289.0 1462.2,288.2 C1470.5,287.4 1481.5,289.9 1495.3,289.9 C1509.1,289.9 1527.5,287.9 1545.0,288.2 C1562.5,288.5 1583.7,290.4 1600.0,291.5 C1616.3,292.6 1625.2,292.2 1642.7,294.8 C1660.2,297.4 1685.2,303.2 1704.8,307.3 C1724.3,311.4 1743.2,315.3 1760.0,319.6 C1776.8,323.9 1790.4,328.4 1805.6,333.3 C1820.8,338.2 1835.9,342.8 1851.1,349.2 C1866.3,355.6 1881.5,363.6 1896.7,372.0 C1911.9,380.4 1928.9,390.9 1942.2,399.3 C1955.5,407.7 1965.0,413.0 1976.4,422.1 C1987.8,431.2 2001.1,444.9 2010.6,454.0 C2020.1,463.1 2027.2,468.1 2033.3,476.8 C2039.4,485.5 2044.0,495.8 2047.0,506.4 C2050.1,517.0 2050.8,527.3 2051.6,540.6 C2052.4,553.9 2052.4,570.9 2051.6,586.1 C2050.8,601.3 2049.3,619.6 2047.0,631.7 C2044.7,643.9 2042.1,650.6 2037.9,659.0 C2033.7,667.4 2028.5,675.3 2022.0,681.8 C2015.5,688.2 2006.8,693.9 1999.2,697.7 C1991.6,701.5 1985.9,703.1 1976.4,704.6 C1966.9,706.1 1955.5,707.7 1942.2,706.9 C1928.9,706.1 1911.9,702.7 1896.7,700.0 C1881.5,697.3 1867.2,694.0 1851.1,690.9 C1835.0,687.8 1813.3,684.0 1800.0,681.3 C1786.7,678.6 1787.0,678.8 1771.3,674.8 C1755.6,670.8 1727.8,662.8 1706.1,657.4 C1684.4,652.0 1662.6,647.3 1640.9,642.2 C1619.2,637.1 1597.5,632.1 1575.7,627.0 C1554.0,621.9 1532.2,616.8 1510.4,611.7 C1488.7,606.6 1460.3,600.0 1445.2,596.5 C1430.1,593.0 1428.7,592.6 1419.8,590.5 C1410.9,588.4 1401.1,586.3 1391.8,584.0 C1382.5,581.7 1372.4,579.4 1363.9,576.6 C1355.4,573.8 1347.6,570.8 1340.6,567.2 C1333.6,563.6 1327.3,559.9 1321.9,555.1 C1316.5,550.3 1311.4,543.8 1308.0,538.4 C1304.6,533.0 1303.7,528.2 1301.4,522.5 C1299.1,516.8 1295.8,510.1 1294.0,503.9 C1292.2,497.7 1291.1,492.2 1290.3,485.2 C1289.5,478.2 1288.8,469.4 1289.3,461.9 C1289.8,454.4 1290.6,448.3 1293.0,440.0 C1295.4,431.7 1298.8,422.4 1303.5,412.0 C1308.2,401.6 1315.9,388.4 1321.4,377.7 C1326.9,367.0 1331.6,356.1 1336.3,347.8Z" fill="none" stroke="#dcb571" stroke-width="40" opacity="0.5" filter="url(#soft)"/>
<path d="M1336.3,347.8 C1341.0,339.5 1342.4,333.0 1349.6,328.0 C1356.8,323.0 1368.9,321.3 1379.4,318.0 C1389.9,314.7 1401.5,312.0 1412.5,308.1 C1423.5,304.2 1437.3,298.1 1445.6,294.8 C1453.9,291.5 1453.9,289.0 1462.2,288.2 C1470.5,287.4 1481.5,289.9 1495.3,289.9 C1509.1,289.9 1527.5,287.9 1545.0,288.2 C1562.5,288.5 1583.7,290.4 1600.0,291.5 C1616.3,292.6 1625.2,292.2 1642.7,294.8 C1660.2,297.4 1685.2,303.2 1704.8,307.3 C1724.3,311.4 1743.2,315.3 1760.0,319.6 C1776.8,323.9 1790.4,328.4 1805.6,333.3 C1820.8,338.2 1835.9,342.8 1851.1,349.2 C1866.3,355.6 1881.5,363.6 1896.7,372.0 C1911.9,380.4 1928.9,390.9 1942.2,399.3 C1955.5,407.7 1965.0,413.0 1976.4,422.1 C1987.8,431.2 2001.1,444.9 2010.6,454.0 C2020.1,463.1 2027.2,468.1 2033.3,476.8 C2039.4,485.5 2044.0,495.8 2047.0,506.4 C2050.1,517.0 2050.8,527.3 2051.6,540.6 C2052.4,553.9 2052.4,570.9 2051.6,586.1 C2050.8,601.3 2049.3,619.6 2047.0,631.7 C2044.7,643.9 2042.1,650.6 2037.9,659.0 C2033.7,667.4 2028.5,675.3 2022.0,681.8 C2015.5,688.2 2006.8,693.9 1999.2,697.7 C1991.6,701.5 1985.9,703.1 1976.4,704.6 C1966.9,706.1 1955.5,707.7 1942.2,706.9 C1928.9,706.1 1911.9,702.7 1896.7,700.0 C1881.5,697.3 1867.2,694.0 1851.1,690.9 C1835.0,687.8 1813.3,684.0 1800.0,681.3 C1786.7,678.6 1787.0,678.8 1771.3,674.8 C1755.6,670.8 1727.8,662.8 1706.1,657.4 C1684.4,652.0 1662.6,647.3 1640.9,642.2 C1619.2,637.1 1597.5,632.1 1575.7,627.0 C1554.0,621.9 1532.2,616.8 1510.4,611.7 C1488.7,606.6 1460.3,600.0 1445.2,596.5 C1430.1,593.0 1428.7,592.6 1419.8,590.5 C1410.9,588.4 1401.1,586.3 1391.8,584.0 C1382.5,581.7 1372.4,579.4 1363.9,576.6 C1355.4,573.8 1347.6,570.8 1340.6,567.2 C1333.6,563.6 1327.3,559.9 1321.9,555.1 C1316.5,550.3 1311.4,543.8 1308.0,538.4 C1304.6,533.0 1303.7,528.2 1301.4,522.5 C1299.1,516.8 1295.8,510.1 1294.0,503.9 C1292.2,497.7 1291.1,492.2 1290.3,485.2 C1289.5,478.2 1288.8,469.4 1289.3,461.9 C1289.8,454.4 1290.6,448.3 1293.0,440.0 C1295.4,431.7 1298.8,422.4 1303.5,412.0 C1308.2,401.6 1315.9,388.4 1321.4,377.7 C1326.9,367.0 1331.6,356.1 1336.3,347.8Z" fill="none" stroke="url(#cr1)" stroke-width="14" filter="url(#soft2)"/>
</g>
<linearGradient id="cr2" gradientUnits="userSpaceOnUse" x1="1272" y1="0" x2="2081" y2="0"><stop offset="0" stop-color="#94592c"/><stop offset="0.3" stop-color="#b57b44"/><stop offset="0.75" stop-color="#c08a50"/><stop offset="1" stop-color="#9e6535"/></linearGradient>
<g clip-path="url(#c2)">
<path d="M1272.4,1706.3 C1273.0,1698.2 1272.8,1695.8 1274.9,1691.4 C1277.0,1687.1 1280.0,1686.0 1284.8,1680.2 C1289.6,1674.4 1296.2,1664.7 1303.5,1656.6 C1310.8,1648.5 1321.0,1638.8 1328.3,1631.8 C1335.5,1624.8 1341.2,1620.0 1347.0,1614.4 C1352.8,1608.8 1356.9,1602.2 1363.1,1598.3 C1369.3,1594.4 1376.5,1593.9 1384.2,1590.8 C1391.9,1587.7 1400.8,1584.1 1409.1,1579.6 C1417.4,1575.0 1425.6,1567.8 1433.9,1563.5 C1442.2,1559.2 1450.5,1556.8 1458.8,1553.5 C1467.1,1550.2 1474.5,1546.5 1483.6,1543.6 C1492.6,1540.7 1502.1,1540.4 1513.1,1536.1 C1524.1,1531.8 1535.8,1523.3 1549.6,1517.8 C1563.4,1512.3 1579.9,1507.6 1595.9,1502.9 C1611.9,1498.2 1629.0,1493.8 1645.6,1489.7 C1662.2,1485.6 1678.7,1481.1 1695.3,1478.1 C1711.9,1475.1 1727.5,1472.9 1745.0,1471.5 C1762.5,1470.1 1781.0,1469.5 1800.0,1469.5 C1819.0,1469.5 1839.3,1469.9 1859.0,1471.6 C1878.7,1473.3 1900.0,1475.2 1918.0,1479.5 C1936.0,1483.8 1952.4,1490.6 1967.2,1497.2 C1982.0,1503.8 1995.1,1510.4 2006.6,1518.9 C2018.1,1527.4 2027.2,1536.9 2036.1,1548.4 C2044.9,1559.9 2053.1,1574.6 2059.7,1587.7 C2066.2,1600.8 2071.8,1614.0 2075.4,1627.1 C2079.0,1640.2 2080.6,1654.9 2081.3,1666.4 C2082.0,1677.9 2081.0,1686.1 2079.4,1695.9 C2077.8,1705.7 2075.4,1717.2 2071.5,1725.4 C2067.6,1733.6 2063.4,1739.2 2055.8,1745.1 C2048.2,1751.0 2039.3,1754.9 2026.2,1760.8 C2013.1,1766.7 1995.1,1774.6 1977.1,1780.5 C1959.1,1786.4 1937.7,1791.4 1918.0,1796.3 C1898.3,1801.2 1878.7,1805.9 1859.0,1810.0 C1839.3,1814.1 1827.4,1814.3 1800.0,1821.0 C1772.6,1827.7 1726.8,1841.4 1694.8,1850.1 C1662.8,1858.8 1636.8,1865.6 1607.8,1873.3 C1578.8,1881.0 1549.9,1889.7 1520.9,1896.5 C1491.9,1903.3 1457.1,1909.6 1433.9,1913.9 C1410.7,1918.2 1396.2,1922.6 1381.7,1922.6 C1367.2,1922.6 1357.6,1918.7 1347.0,1913.9 C1336.4,1909.1 1326.7,1902.3 1318.0,1893.6 C1309.3,1884.9 1300.8,1872.8 1294.8,1861.7 C1288.8,1850.6 1285.1,1840.0 1281.7,1827.0 C1278.3,1814.0 1276.2,1798.0 1274.5,1783.5 C1272.8,1769.0 1271.9,1752.9 1271.6,1740.0 C1271.2,1727.1 1271.9,1714.4 1272.4,1706.3Z" fill="url(#cg)"/>
<path d="M1272.4,1706.3 C1273.0,1698.2 1272.8,1695.8 1274.9,1691.4 C1277.0,1687.1 1280.0,1686.0 1284.8,1680.2 C1289.6,1674.4 1296.2,1664.7 1303.5,1656.6 C1310.8,1648.5 1321.0,1638.8 1328.3,1631.8 C1335.5,1624.8 1341.2,1620.0 1347.0,1614.4 C1352.8,1608.8 1356.9,1602.2 1363.1,1598.3 C1369.3,1594.4 1376.5,1593.9 1384.2,1590.8 C1391.9,1587.7 1400.8,1584.1 1409.1,1579.6 C1417.4,1575.0 1425.6,1567.8 1433.9,1563.5 C1442.2,1559.2 1450.5,1556.8 1458.8,1553.5 C1467.1,1550.2 1474.5,1546.5 1483.6,1543.6 C1492.6,1540.7 1502.1,1540.4 1513.1,1536.1 C1524.1,1531.8 1535.8,1523.3 1549.6,1517.8 C1563.4,1512.3 1579.9,1507.6 1595.9,1502.9 C1611.9,1498.2 1629.0,1493.8 1645.6,1489.7 C1662.2,1485.6 1678.7,1481.1 1695.3,1478.1 C1711.9,1475.1 1727.5,1472.9 1745.0,1471.5 C1762.5,1470.1 1781.0,1469.5 1800.0,1469.5 C1819.0,1469.5 1839.3,1469.9 1859.0,1471.6 C1878.7,1473.3 1900.0,1475.2 1918.0,1479.5 C1936.0,1483.8 1952.4,1490.6 1967.2,1497.2 C1982.0,1503.8 1995.1,1510.4 2006.6,1518.9 C2018.1,1527.4 2027.2,1536.9 2036.1,1548.4 C2044.9,1559.9 2053.1,1574.6 2059.7,1587.7 C2066.2,1600.8 2071.8,1614.0 2075.4,1627.1 C2079.0,1640.2 2080.6,1654.9 2081.3,1666.4 C2082.0,1677.9 2081.0,1686.1 2079.4,1695.9 C2077.8,1705.7 2075.4,1717.2 2071.5,1725.4 C2067.6,1733.6 2063.4,1739.2 2055.8,1745.1 C2048.2,1751.0 2039.3,1754.9 2026.2,1760.8 C2013.1,1766.7 1995.1,1774.6 1977.1,1780.5 C1959.1,1786.4 1937.7,1791.4 1918.0,1796.3 C1898.3,1801.2 1878.7,1805.9 1859.0,1810.0 C1839.3,1814.1 1827.4,1814.3 1800.0,1821.0 C1772.6,1827.7 1726.8,1841.4 1694.8,1850.1 C1662.8,1858.8 1636.8,1865.6 1607.8,1873.3 C1578.8,1881.0 1549.9,1889.7 1520.9,1896.5 C1491.9,1903.3 1457.1,1909.6 1433.9,1913.9 C1410.7,1918.2 1396.2,1922.6 1381.7,1922.6 C1367.2,1922.6 1357.6,1918.7 1347.0,1913.9 C1336.4,1909.1 1326.7,1902.3 1318.0,1893.6 C1309.3,1884.9 1300.8,1872.8 1294.8,1861.7 C1288.8,1850.6 1285.1,1840.0 1281.7,1827.0 C1278.3,1814.0 1276.2,1798.0 1274.5,1783.5 C1272.8,1769.0 1271.9,1752.9 1271.6,1740.0 C1271.2,1727.1 1271.9,1714.4 1272.4,1706.3Z" fill="#fff" filter="url(#crumb)" opacity="0.62"/>
<path d="M1272.4,1706.3 C1273.0,1698.2 1272.8,1695.8 1274.9,1691.4 C1277.0,1687.1 1280.0,1686.0 1284.8,1680.2 C1289.6,1674.4 1296.2,1664.7 1303.5,1656.6 C1310.8,1648.5 1321.0,1638.8 1328.3,1631.8 C1335.5,1624.8 1341.2,1620.0 1347.0,1614.4 C1352.8,1608.8 1356.9,1602.2 1363.1,1598.3 C1369.3,1594.4 1376.5,1593.9 1384.2,1590.8 C1391.9,1587.7 1400.8,1584.1 1409.1,1579.6 C1417.4,1575.0 1425.6,1567.8 1433.9,1563.5 C1442.2,1559.2 1450.5,1556.8 1458.8,1553.5 C1467.1,1550.2 1474.5,1546.5 1483.6,1543.6 C1492.6,1540.7 1502.1,1540.4 1513.1,1536.1 C1524.1,1531.8 1535.8,1523.3 1549.6,1517.8 C1563.4,1512.3 1579.9,1507.6 1595.9,1502.9 C1611.9,1498.2 1629.0,1493.8 1645.6,1489.7 C1662.2,1485.6 1678.7,1481.1 1695.3,1478.1 C1711.9,1475.1 1727.5,1472.9 1745.0,1471.5 C1762.5,1470.1 1781.0,1469.5 1800.0,1469.5 C1819.0,1469.5 1839.3,1469.9 1859.0,1471.6 C1878.7,1473.3 1900.0,1475.2 1918.0,1479.5 C1936.0,1483.8 1952.4,1490.6 1967.2,1497.2 C1982.0,1503.8 1995.1,1510.4 2006.6,1518.9 C2018.1,1527.4 2027.2,1536.9 2036.1,1548.4 C2044.9,1559.9 2053.1,1574.6 2059.7,1587.7 C2066.2,1600.8 2071.8,1614.0 2075.4,1627.1 C2079.0,1640.2 2080.6,1654.9 2081.3,1666.4 C2082.0,1677.9 2081.0,1686.1 2079.4,1695.9 C2077.8,1705.7 2075.4,1717.2 2071.5,1725.4 C2067.6,1733.6 2063.4,1739.2 2055.8,1745.1 C2048.2,1751.0 2039.3,1754.9 2026.2,1760.8 C2013.1,1766.7 1995.1,1774.6 1977.1,1780.5 C1959.1,1786.4 1937.7,1791.4 1918.0,1796.3 C1898.3,1801.2 1878.7,1805.9 1859.0,1810.0 C1839.3,1814.1 1827.4,1814.3 1800.0,1821.0 C1772.6,1827.7 1726.8,1841.4 1694.8,1850.1 C1662.8,1858.8 1636.8,1865.6 1607.8,1873.3 C1578.8,1881.0 1549.9,1889.7 1520.9,1896.5 C1491.9,1903.3 1457.1,1909.6 1433.9,1913.9 C1410.7,1918.2 1396.2,1922.6 1381.7,1922.6 C1367.2,1922.6 1357.6,1918.7 1347.0,1913.9 C1336.4,1909.1 1326.7,1902.3 1318.0,1893.6 C1309.3,1884.9 1300.8,1872.8 1294.8,1861.7 C1288.8,1850.6 1285.1,1840.0 1281.7,1827.0 C1278.3,1814.0 1276.2,1798.0 1274.5,1783.5 C1272.8,1769.0 1271.9,1752.9 1271.6,1740.0 C1271.2,1727.1 1271.9,1714.4 1272.4,1706.3Z" fill="#fff" filter="url(#fine)" opacity="0.38"/>
<path d="M1272.4,1706.3 C1273.0,1698.2 1272.8,1695.8 1274.9,1691.4 C1277.0,1687.1 1280.0,1686.0 1284.8,1680.2 C1289.6,1674.4 1296.2,1664.7 1303.5,1656.6 C1310.8,1648.5 1321.0,1638.8 1328.3,1631.8 C1335.5,1624.8 1341.2,1620.0 1347.0,1614.4 C1352.8,1608.8 1356.9,1602.2 1363.1,1598.3 C1369.3,1594.4 1376.5,1593.9 1384.2,1590.8 C1391.9,1587.7 1400.8,1584.1 1409.1,1579.6 C1417.4,1575.0 1425.6,1567.8 1433.9,1563.5 C1442.2,1559.2 1450.5,1556.8 1458.8,1553.5 C1467.1,1550.2 1474.5,1546.5 1483.6,1543.6 C1492.6,1540.7 1502.1,1540.4 1513.1,1536.1 C1524.1,1531.8 1535.8,1523.3 1549.6,1517.8 C1563.4,1512.3 1579.9,1507.6 1595.9,1502.9 C1611.9,1498.2 1629.0,1493.8 1645.6,1489.7 C1662.2,1485.6 1678.7,1481.1 1695.3,1478.1 C1711.9,1475.1 1727.5,1472.9 1745.0,1471.5 C1762.5,1470.1 1781.0,1469.5 1800.0,1469.5 C1819.0,1469.5 1839.3,1469.9 1859.0,1471.6 C1878.7,1473.3 1900.0,1475.2 1918.0,1479.5 C1936.0,1483.8 1952.4,1490.6 1967.2,1497.2 C1982.0,1503.8 1995.1,1510.4 2006.6,1518.9 C2018.1,1527.4 2027.2,1536.9 2036.1,1548.4 C2044.9,1559.9 2053.1,1574.6 2059.7,1587.7 C2066.2,1600.8 2071.8,1614.0 2075.4,1627.1 C2079.0,1640.2 2080.6,1654.9 2081.3,1666.4 C2082.0,1677.9 2081.0,1686.1 2079.4,1695.9 C2077.8,1705.7 2075.4,1717.2 2071.5,1725.4 C2067.6,1733.6 2063.4,1739.2 2055.8,1745.1 C2048.2,1751.0 2039.3,1754.9 2026.2,1760.8 C2013.1,1766.7 1995.1,1774.6 1977.1,1780.5 C1959.1,1786.4 1937.7,1791.4 1918.0,1796.3 C1898.3,1801.2 1878.7,1805.9 1859.0,1810.0 C1839.3,1814.1 1827.4,1814.3 1800.0,1821.0 C1772.6,1827.7 1726.8,1841.4 1694.8,1850.1 C1662.8,1858.8 1636.8,1865.6 1607.8,1873.3 C1578.8,1881.0 1549.9,1889.7 1520.9,1896.5 C1491.9,1903.3 1457.1,1909.6 1433.9,1913.9 C1410.7,1918.2 1396.2,1922.6 1381.7,1922.6 C1367.2,1922.6 1357.6,1918.7 1347.0,1913.9 C1336.4,1909.1 1326.7,1902.3 1318.0,1893.6 C1309.3,1884.9 1300.8,1872.8 1294.8,1861.7 C1288.8,1850.6 1285.1,1840.0 1281.7,1827.0 C1278.3,1814.0 1276.2,1798.0 1274.5,1783.5 C1272.8,1769.0 1271.9,1752.9 1271.6,1740.0 C1271.2,1727.1 1271.9,1714.4 1272.4,1706.3Z" fill="none" stroke="#dcb571" stroke-width="40" opacity="0.5" filter="url(#soft)"/>
<path d="M1272.4,1706.3 C1273.0,1698.2 1272.8,1695.8 1274.9,1691.4 C1277.0,1687.1 1280.0,1686.0 1284.8,1680.2 C1289.6,1674.4 1296.2,1664.7 1303.5,1656.6 C1310.8,1648.5 1321.0,1638.8 1328.3,1631.8 C1335.5,1624.8 1341.2,1620.0 1347.0,1614.4 C1352.8,1608.8 1356.9,1602.2 1363.1,1598.3 C1369.3,1594.4 1376.5,1593.9 1384.2,1590.8 C1391.9,1587.7 1400.8,1584.1 1409.1,1579.6 C1417.4,1575.0 1425.6,1567.8 1433.9,1563.5 C1442.2,1559.2 1450.5,1556.8 1458.8,1553.5 C1467.1,1550.2 1474.5,1546.5 1483.6,1543.6 C1492.6,1540.7 1502.1,1540.4 1513.1,1536.1 C1524.1,1531.8 1535.8,1523.3 1549.6,1517.8 C1563.4,1512.3 1579.9,1507.6 1595.9,1502.9 C1611.9,1498.2 1629.0,1493.8 1645.6,1489.7 C1662.2,1485.6 1678.7,1481.1 1695.3,1478.1 C1711.9,1475.1 1727.5,1472.9 1745.0,1471.5 C1762.5,1470.1 1781.0,1469.5 1800.0,1469.5 C1819.0,1469.5 1839.3,1469.9 1859.0,1471.6 C1878.7,1473.3 1900.0,1475.2 1918.0,1479.5 C1936.0,1483.8 1952.4,1490.6 1967.2,1497.2 C1982.0,1503.8 1995.1,1510.4 2006.6,1518.9 C2018.1,1527.4 2027.2,1536.9 2036.1,1548.4 C2044.9,1559.9 2053.1,1574.6 2059.7,1587.7 C2066.2,1600.8 2071.8,1614.0 2075.4,1627.1 C2079.0,1640.2 2080.6,1654.9 2081.3,1666.4 C2082.0,1677.9 2081.0,1686.1 2079.4,1695.9 C2077.8,1705.7 2075.4,1717.2 2071.5,1725.4 C2067.6,1733.6 2063.4,1739.2 2055.8,1745.1 C2048.2,1751.0 2039.3,1754.9 2026.2,1760.8 C2013.1,1766.7 1995.1,1774.6 1977.1,1780.5 C1959.1,1786.4 1937.7,1791.4 1918.0,1796.3 C1898.3,1801.2 1878.7,1805.9 1859.0,1810.0 C1839.3,1814.1 1827.4,1814.3 1800.0,1821.0 C1772.6,1827.7 1726.8,1841.4 1694.8,1850.1 C1662.8,1858.8 1636.8,1865.6 1607.8,1873.3 C1578.8,1881.0 1549.9,1889.7 1520.9,1896.5 C1491.9,1903.3 1457.1,1909.6 1433.9,1913.9 C1410.7,1918.2 1396.2,1922.6 1381.7,1922.6 C1367.2,1922.6 1357.6,1918.7 1347.0,1913.9 C1336.4,1909.1 1326.7,1902.3 1318.0,1893.6 C1309.3,1884.9 1300.8,1872.8 1294.8,1861.7 C1288.8,1850.6 1285.1,1840.0 1281.7,1827.0 C1278.3,1814.0 1276.2,1798.0 1274.5,1783.5 C1272.8,1769.0 1271.9,1752.9 1271.6,1740.0 C1271.2,1727.1 1271.9,1714.4 1272.4,1706.3Z" fill="none" stroke="url(#cr2)" stroke-width="14" filter="url(#soft2)"/>
</g>
<linearGradient id="cr3" gradientUnits="userSpaceOnUse" x1="1369" y1="0" x2="1978" y2="0"><stop offset="0" stop-color="#94592c"/><stop offset="0.3" stop-color="#b57b44"/><stop offset="0.75" stop-color="#c08a50"/><stop offset="1" stop-color="#9e6535"/></linearGradient>
<g clip-path="url(#c3)">
<path d="M1530.0,2230.0 C1446.1,2225.0 1490.7,2207.4 1474.6,2200.0 C1458.5,2192.6 1445.3,2190.3 1433.2,2185.3 C1421.1,2180.3 1410.3,2175.2 1402.0,2169.8 C1393.7,2164.5 1388.1,2159.9 1383.5,2153.2 C1378.9,2146.5 1376.6,2138.6 1374.2,2129.4 C1371.8,2120.2 1369.4,2107.5 1369.0,2098.3 C1368.6,2089.1 1369.3,2082.2 1372.0,2074.0 C1374.7,2065.8 1381.0,2057.3 1385.3,2049.1 C1389.6,2040.8 1392.6,2033.0 1397.6,2024.5 C1402.6,2016.0 1409.3,2006.0 1415.2,1998.1 C1421.1,1990.2 1424.0,1981.7 1432.8,1977.0 C1441.6,1972.3 1456.3,1972.2 1468.0,1969.9 C1479.7,1967.6 1492.9,1965.0 1503.2,1962.9 C1513.5,1960.9 1520.8,1957.6 1529.6,1957.6 C1538.4,1957.6 1545.7,1961.4 1556.0,1962.9 C1566.3,1964.4 1579.5,1964.4 1591.2,1966.4 C1602.9,1968.5 1614.7,1972.0 1626.4,1975.2 C1638.1,1978.4 1651.3,1983.2 1661.6,1985.8 C1671.9,1988.4 1678.3,1988.4 1688.0,1991.0 C1697.7,1993.6 1707.7,1997.2 1720.0,2001.2 C1732.3,2005.2 1747.3,2009.0 1762.1,2015.2 C1776.9,2021.4 1793.2,2029.7 1808.7,2038.5 C1824.2,2047.3 1839.8,2057.1 1855.3,2068.0 C1870.8,2078.9 1889.0,2092.3 1901.9,2103.7 C1914.8,2115.1 1924.6,2127.5 1932.9,2136.3 C1941.2,2145.1 1945.9,2149.2 1951.6,2156.5 C1957.3,2163.8 1963.5,2172.6 1967.1,2179.8 C1970.7,2187.1 1971.5,2191.6 1973.3,2200.0 C1975.1,2208.4 2051.9,2225.0 1978.0,2230.0 C1904.1,2235.0 1613.9,2235.0 1530.0,2230.0Z" fill="url(#cg)"/>
<path d="M1530.0,2230.0 C1446.1,2225.0 1490.7,2207.4 1474.6,2200.0 C1458.5,2192.6 1445.3,2190.3 1433.2,2185.3 C1421.1,2180.3 1410.3,2175.2 1402.0,2169.8 C1393.7,2164.5 1388.1,2159.9 1383.5,2153.2 C1378.9,2146.5 1376.6,2138.6 1374.2,2129.4 C1371.8,2120.2 1369.4,2107.5 1369.0,2098.3 C1368.6,2089.1 1369.3,2082.2 1372.0,2074.0 C1374.7,2065.8 1381.0,2057.3 1385.3,2049.1 C1389.6,2040.8 1392.6,2033.0 1397.6,2024.5 C1402.6,2016.0 1409.3,2006.0 1415.2,1998.1 C1421.1,1990.2 1424.0,1981.7 1432.8,1977.0 C1441.6,1972.3 1456.3,1972.2 1468.0,1969.9 C1479.7,1967.6 1492.9,1965.0 1503.2,1962.9 C1513.5,1960.9 1520.8,1957.6 1529.6,1957.6 C1538.4,1957.6 1545.7,1961.4 1556.0,1962.9 C1566.3,1964.4 1579.5,1964.4 1591.2,1966.4 C1602.9,1968.5 1614.7,1972.0 1626.4,1975.2 C1638.1,1978.4 1651.3,1983.2 1661.6,1985.8 C1671.9,1988.4 1678.3,1988.4 1688.0,1991.0 C1697.7,1993.6 1707.7,1997.2 1720.0,2001.2 C1732.3,2005.2 1747.3,2009.0 1762.1,2015.2 C1776.9,2021.4 1793.2,2029.7 1808.7,2038.5 C1824.2,2047.3 1839.8,2057.1 1855.3,2068.0 C1870.8,2078.9 1889.0,2092.3 1901.9,2103.7 C1914.8,2115.1 1924.6,2127.5 1932.9,2136.3 C1941.2,2145.1 1945.9,2149.2 1951.6,2156.5 C1957.3,2163.8 1963.5,2172.6 1967.1,2179.8 C1970.7,2187.1 1971.5,2191.6 1973.3,2200.0 C1975.1,2208.4 2051.9,2225.0 1978.0,2230.0 C1904.1,2235.0 1613.9,2235.0 1530.0,2230.0Z" fill="#fff" filter="url(#crumb)" opacity="0.62"/>
<path d="M1530.0,2230.0 C1446.1,2225.0 1490.7,2207.4 1474.6,2200.0 C1458.5,2192.6 1445.3,2190.3 1433.2,2185.3 C1421.1,2180.3 1410.3,2175.2 1402.0,2169.8 C1393.7,2164.5 1388.1,2159.9 1383.5,2153.2 C1378.9,2146.5 1376.6,2138.6 1374.2,2129.4 C1371.8,2120.2 1369.4,2107.5 1369.0,2098.3 C1368.6,2089.1 1369.3,2082.2 1372.0,2074.0 C1374.7,2065.8 1381.0,2057.3 1385.3,2049.1 C1389.6,2040.8 1392.6,2033.0 1397.6,2024.5 C1402.6,2016.0 1409.3,2006.0 1415.2,1998.1 C1421.1,1990.2 1424.0,1981.7 1432.8,1977.0 C1441.6,1972.3 1456.3,1972.2 1468.0,1969.9 C1479.7,1967.6 1492.9,1965.0 1503.2,1962.9 C1513.5,1960.9 1520.8,1957.6 1529.6,1957.6 C1538.4,1957.6 1545.7,1961.4 1556.0,1962.9 C1566.3,1964.4 1579.5,1964.4 1591.2,1966.4 C1602.9,1968.5 1614.7,1972.0 1626.4,1975.2 C1638.1,1978.4 1651.3,1983.2 1661.6,1985.8 C1671.9,1988.4 1678.3,1988.4 1688.0,1991.0 C1697.7,1993.6 1707.7,1997.2 1720.0,2001.2 C1732.3,2005.2 1747.3,2009.0 1762.1,2015.2 C1776.9,2021.4 1793.2,2029.7 1808.7,2038.5 C1824.2,2047.3 1839.8,2057.1 1855.3,2068.0 C1870.8,2078.9 1889.0,2092.3 1901.9,2103.7 C1914.8,2115.1 1924.6,2127.5 1932.9,2136.3 C1941.2,2145.1 1945.9,2149.2 1951.6,2156.5 C1957.3,2163.8 1963.5,2172.6 1967.1,2179.8 C1970.7,2187.1 1971.5,2191.6 1973.3,2200.0 C1975.1,2208.4 2051.9,2225.0 1978.0,2230.0 C1904.1,2235.0 1613.9,2235.0 1530.0,2230.0Z" fill="#fff" filter="url(#fine)" opacity="0.38"/>
<path d="M1530.0,2230.0 C1446.1,2225.0 1490.7,2207.4 1474.6,2200.0 C1458.5,2192.6 1445.3,2190.3 1433.2,2185.3 C1421.1,2180.3 1410.3,2175.2 1402.0,2169.8 C1393.7,2164.5 1388.1,2159.9 1383.5,2153.2 C1378.9,2146.5 1376.6,2138.6 1374.2,2129.4 C1371.8,2120.2 1369.4,2107.5 1369.0,2098.3 C1368.6,2089.1 1369.3,2082.2 1372.0,2074.0 C1374.7,2065.8 1381.0,2057.3 1385.3,2049.1 C1389.6,2040.8 1392.6,2033.0 1397.6,2024.5 C1402.6,2016.0 1409.3,2006.0 1415.2,1998.1 C1421.1,1990.2 1424.0,1981.7 1432.8,1977.0 C1441.6,1972.3 1456.3,1972.2 1468.0,1969.9 C1479.7,1967.6 1492.9,1965.0 1503.2,1962.9 C1513.5,1960.9 1520.8,1957.6 1529.6,1957.6 C1538.4,1957.6 1545.7,1961.4 1556.0,1962.9 C1566.3,1964.4 1579.5,1964.4 1591.2,1966.4 C1602.9,1968.5 1614.7,1972.0 1626.4,1975.2 C1638.1,1978.4 1651.3,1983.2 1661.6,1985.8 C1671.9,1988.4 1678.3,1988.4 1688.0,1991.0 C1697.7,1993.6 1707.7,1997.2 1720.0,2001.2 C1732.3,2005.2 1747.3,2009.0 1762.1,2015.2 C1776.9,2021.4 1793.2,2029.7 1808.7,2038.5 C1824.2,2047.3 1839.8,2057.1 1855.3,2068.0 C1870.8,2078.9 1889.0,2092.3 1901.9,2103.7 C1914.8,2115.1 1924.6,2127.5 1932.9,2136.3 C1941.2,2145.1 1945.9,2149.2 1951.6,2156.5 C1957.3,2163.8 1963.5,2172.6 1967.1,2179.8 C1970.7,2187.1 1971.5,2191.6 1973.3,2200.0 C1975.1,2208.4 2051.9,2225.0 1978.0,2230.0 C1904.1,2235.0 1613.9,2235.0 1530.0,2230.0Z" fill="none" stroke="#dcb571" stroke-width="40" opacity="0.5" filter="url(#soft)"/>
<path d="M1530.0,2230.0 C1446.1,2225.0 1490.7,2207.4 1474.6,2200.0 C1458.5,2192.6 1445.3,2190.3 1433.2,2185.3 C1421.1,2180.3 1410.3,2175.2 1402.0,2169.8 C1393.7,2164.5 1388.1,2159.9 1383.5,2153.2 C1378.9,2146.5 1376.6,2138.6 1374.2,2129.4 C1371.8,2120.2 1369.4,2107.5 1369.0,2098.3 C1368.6,2089.1 1369.3,2082.2 1372.0,2074.0 C1374.7,2065.8 1381.0,2057.3 1385.3,2049.1 C1389.6,2040.8 1392.6,2033.0 1397.6,2024.5 C1402.6,2016.0 1409.3,2006.0 1415.2,1998.1 C1421.1,1990.2 1424.0,1981.7 1432.8,1977.0 C1441.6,1972.3 1456.3,1972.2 1468.0,1969.9 C1479.7,1967.6 1492.9,1965.0 1503.2,1962.9 C1513.5,1960.9 1520.8,1957.6 1529.6,1957.6 C1538.4,1957.6 1545.7,1961.4 1556.0,1962.9 C1566.3,1964.4 1579.5,1964.4 1591.2,1966.4 C1602.9,1968.5 1614.7,1972.0 1626.4,1975.2 C1638.1,1978.4 1651.3,1983.2 1661.6,1985.8 C1671.9,1988.4 1678.3,1988.4 1688.0,1991.0 C1697.7,1993.6 1707.7,1997.2 1720.0,2001.2 C1732.3,2005.2 1747.3,2009.0 1762.1,2015.2 C1776.9,2021.4 1793.2,2029.7 1808.7,2038.5 C1824.2,2047.3 1839.8,2057.1 1855.3,2068.0 C1870.8,2078.9 1889.0,2092.3 1901.9,2103.7 C1914.8,2115.1 1924.6,2127.5 1932.9,2136.3 C1941.2,2145.1 1945.9,2149.2 1951.6,2156.5 C1957.3,2163.8 1963.5,2172.6 1967.1,2179.8 C1970.7,2187.1 1971.5,2191.6 1973.3,2200.0 C1975.1,2208.4 2051.9,2225.0 1978.0,2230.0 C1904.1,2235.0 1613.9,2235.0 1530.0,2230.0Z" fill="none" stroke="url(#cr3)" stroke-width="14" filter="url(#soft2)"/>
</g>
<rect x="123.5" y="132.1" width="1009" height="1955.4" fill="none" stroke="#fbfbfa" stroke-width="7"/>
<rect x="143.4" y="270.5" width="968.6" height="2.3" fill="#fbfbfa"/>
<rect x="144.5" y="457.1" width="968.3" height="26.9" fill="#fbfbfa"/>
<rect x="143.0" y="693.0" width="969.8" height="15.8" fill="#fbfbfa"/>
<rect x="145.5" y="795.4" width="965.1" height="2.6" fill="#fbfbfa"/>
<rect x="145.5" y="872.1" width="965.1" height="2.6" fill="#fbfbfa"/>
<rect x="145.5" y="948.7" width="965.1" height="2.6" fill="#fbfbfa"/>
<rect x="145.5" y="1025.4" width="965.1" height="2.6" fill="#fbfbfa"/>
<rect x="145.5" y="1102.0" width="965.1" height="2.6" fill="#fbfbfa"/>
<rect x="145.5" y="1178.7" width="965.1" height="2.6" fill="#fbfbfa"/>
<rect x="145.5" y="1255.4" width="965.1" height="2.6" fill="#fbfbfa"/>
<rect x="145.5" y="1332.0" width="965.1" height="2.6" fill="#fbfbfa"/>
<rect x="292.7" y="1408.7" width="817.9" height="2.6" fill="#fbfbfa"/>
<rect x="145.5" y="1485.3" width="965.1" height="2.6" fill="#fbfbfa"/>
<rect x="145.5" y="1568.5" width="967.3" height="27.2" fill="#fbfbfa"/>
<rect x="145.5" y="1681.1" width="965.1" height="2.6" fill="#fbfbfa"/>
<rect x="145.5" y="1758.0" width="965.1" height="2.6" fill="#fbfbfa"/>
<rect x="145.5" y="1834.8" width="965.1" height="2.6" fill="#fbfbfa"/>
<rect x="145.5" y="1916.0" width="967.3" height="15.5" fill="#fbfbfa"/>
<text class="b" x="150.3" y="247.9" font-size="136.92" textLength="964.3" lengthAdjust="spacingAndGlyphs">Nutrition Facts</text>
<text x="153.2" y="347.8" font-size="62.50" textLength="836.2" lengthAdjust="spacingAndGlyphs">About 7 servings per container</text>
<text class="b" x="151.4" y="420.8" font-size="63.23" textLength="330.3" lengthAdjust="spacingAndGlyphs">Serving size</text>
<text class="b" x="588.5" y="420.8" font-size="63.23" textLength="517.3" lengthAdjust="spacingAndGlyphs">About 1 slice (65g)</text>
<text class="b" x="151.6" y="546.1" font-size="55.67" textLength="540.0" lengthAdjust="spacingAndGlyphs">Amount per serving</text>
<text class="b" x="144.6" y="668.0" font-size="132.27" textLength="489.8" lengthAdjust="spacingAndGlyphs">Calories</text>
<text class="b" x="751.5" y="668.2" font-size="207.85" textLength="360.3" lengthAdjust="spacingAndGlyphs">160</text>
<text class="b" x="725.8" y="773.8" font-size="56.40" textLength="377.6" lengthAdjust="spacingAndGlyphs">% Daily Value*</text>
<text class="b" x="154.4" y="852.0" font-size="56.11" textLength="241.1" lengthAdjust="spacingAndGlyphs">Total Fat</text>
<text x="412.4" y="852.0" font-size="56.11" textLength="63.3" lengthAdjust="spacingAndGlyphs">1g</text>
<text class="b" x="1036.2" y="852.3" font-size="56.11" textLength="70.0" lengthAdjust="spacingAndGlyphs">1%</text>
<text x="208.8" y="928.7" font-size="56.11" textLength="479.6" lengthAdjust="spacingAndGlyphs">Saturated Fat 0g</text>
<text class="b" x="1026.8" y="929.0" font-size="56.11" textLength="79.6" lengthAdjust="spacingAndGlyphs">0%</text>
<text x="210.3" y="1005.3" font-size="56.11" textLength="349.7" lengthAdjust="spacingAndGlyphs">Trans Fat 0g</text>
<text class="b" x="152.6" y="1082.0" font-size="56.11" textLength="322.0" lengthAdjust="spacingAndGlyphs">Cholesterol</text>
<text x="490.2" y="1082.0" font-size="56.11" textLength="121.1" lengthAdjust="spacingAndGlyphs">0mg</text>
<text class="b" x="1026.8" y="1082.3" font-size="56.11" textLength="79.6" lengthAdjust="spacingAndGlyphs">0%</text>
<text class="b" x="153.4" y="1158.6" font-size="56.11" textLength="206.4" lengthAdjust="spacingAndGlyphs">Sodium</text>
<text x="374.3" y="1158.6" font-size="56.11" textLength="192.6" lengthAdjust="spacingAndGlyphs">350mg</text>
<text class="b" x="1002.7" y="1158.9" font-size="56.11" textLength="103.6" lengthAdjust="spacingAndGlyphs">15%</text>
<text class="b" x="154.3" y="1235.3" font-size="56.11" textLength="574.8" lengthAdjust="spacingAndGlyphs">Total Carbohydrates</text>
<text x="745.1" y="1235.3" font-size="56.11" textLength="107.2" lengthAdjust="spacingAndGlyphs">43g</text>
<text class="b" x="1002.7" y="1235.6" font-size="56.11" textLength="103.6" lengthAdjust="spacingAndGlyphs">16%</text>
<text x="206.7" y="1312.0" font-size="56.11" textLength="437.9" lengthAdjust="spacingAndGlyphs">Dietary Fiber 1g</text>
<text class="b" x="1030.4" y="1312.3" font-size="56.11" textLength="76.0" lengthAdjust="spacingAndGlyphs">3%</text>
<text x="210.3" y="1388.6" font-size="56.11" textLength="441.0" lengthAdjust="spacingAndGlyphs">Total Sugars 0g</text>
<text x="296.1" y="1465.3" font-size="56.11" textLength="676.2" lengthAdjust="spacingAndGlyphs">Includes 0g Added Sugars</text>
<text class="b" x="1026.8" y="1465.6" font-size="56.11" textLength="79.6" lengthAdjust="spacingAndGlyphs">0%</text>
<text class="b" x="152.9" y="1541.9" font-size="56.11" textLength="205.0" lengthAdjust="spacingAndGlyphs">Protein</text>
<text x="373.2" y="1541.9" font-size="56.11" textLength="73.4" lengthAdjust="spacingAndGlyphs">4g</text>
<text x="155.3" y="1666.6" font-size="56.11" textLength="433.4" lengthAdjust="spacingAndGlyphs">Vitamin D 0mcg</text>
<text class="b" x="1026.8" y="1660.4" font-size="56.11" textLength="79.6" lengthAdjust="spacingAndGlyphs">0%</text>
<text x="152.5" y="1742.0" font-size="56.11" textLength="392.3" lengthAdjust="spacingAndGlyphs">Calcium 60mg</text>
<text class="b" x="1029.2" y="1737.9" font-size="56.11" textLength="77.2" lengthAdjust="spacingAndGlyphs">4%</text>
<text x="152.2" y="1817.4" font-size="56.11" textLength="244.6" lengthAdjust="spacingAndGlyphs">Iron 3mg</text>
<text class="b" x="1002.7" y="1814.8" font-size="56.11" textLength="103.6" lengthAdjust="spacingAndGlyphs">15%</text>
<text x="150.5" y="1892.0" font-size="56.11" textLength="464.0" lengthAdjust="spacingAndGlyphs">Potassium 50mg</text>
<text class="b" x="1026.8" y="1891.5" font-size="56.11" textLength="79.6" lengthAdjust="spacingAndGlyphs">0%</text>
<text x="151.4" y="1980.0" font-size="34.88" textLength="925.7" lengthAdjust="spacingAndGlyphs">*The % Daily Value (DV) tells you how much a nutrient</text>
<text x="149.3" y="2016.7" font-size="34.88" textLength="918.7" lengthAdjust="spacingAndGlyphs">in a serving of food contributes to a daily diet. 2,000</text>
<text x="150.3" y="2054.2" font-size="34.88" textLength="868.9" lengthAdjust="spacingAndGlyphs">calories a day is used for general nutrition advice.</text>
<text x="1278.1" y="904.5" font-size="147.53" textLength="763.0" lengthAdjust="spacingAndGlyphs" stroke="#fbfbfa" stroke-width="1.6">Sourdough</text>
<text x="1287.0" y="1055.8" font-size="147.53" textLength="757.5" lengthAdjust="spacingAndGlyphs" stroke="#fbfbfa" stroke-width="1.6">you’ll savor</text>
<text class="b" x="1399.1" y="1209.0" font-size="147.53" textLength="515.7" lengthAdjust="spacingAndGlyphs">slice by</text>
<text class="b" x="1502.1" y="1358.5" font-size="147.53" textLength="311.4" lengthAdjust="spacingAndGlyphs">slice</text>
</svg></body></html>
